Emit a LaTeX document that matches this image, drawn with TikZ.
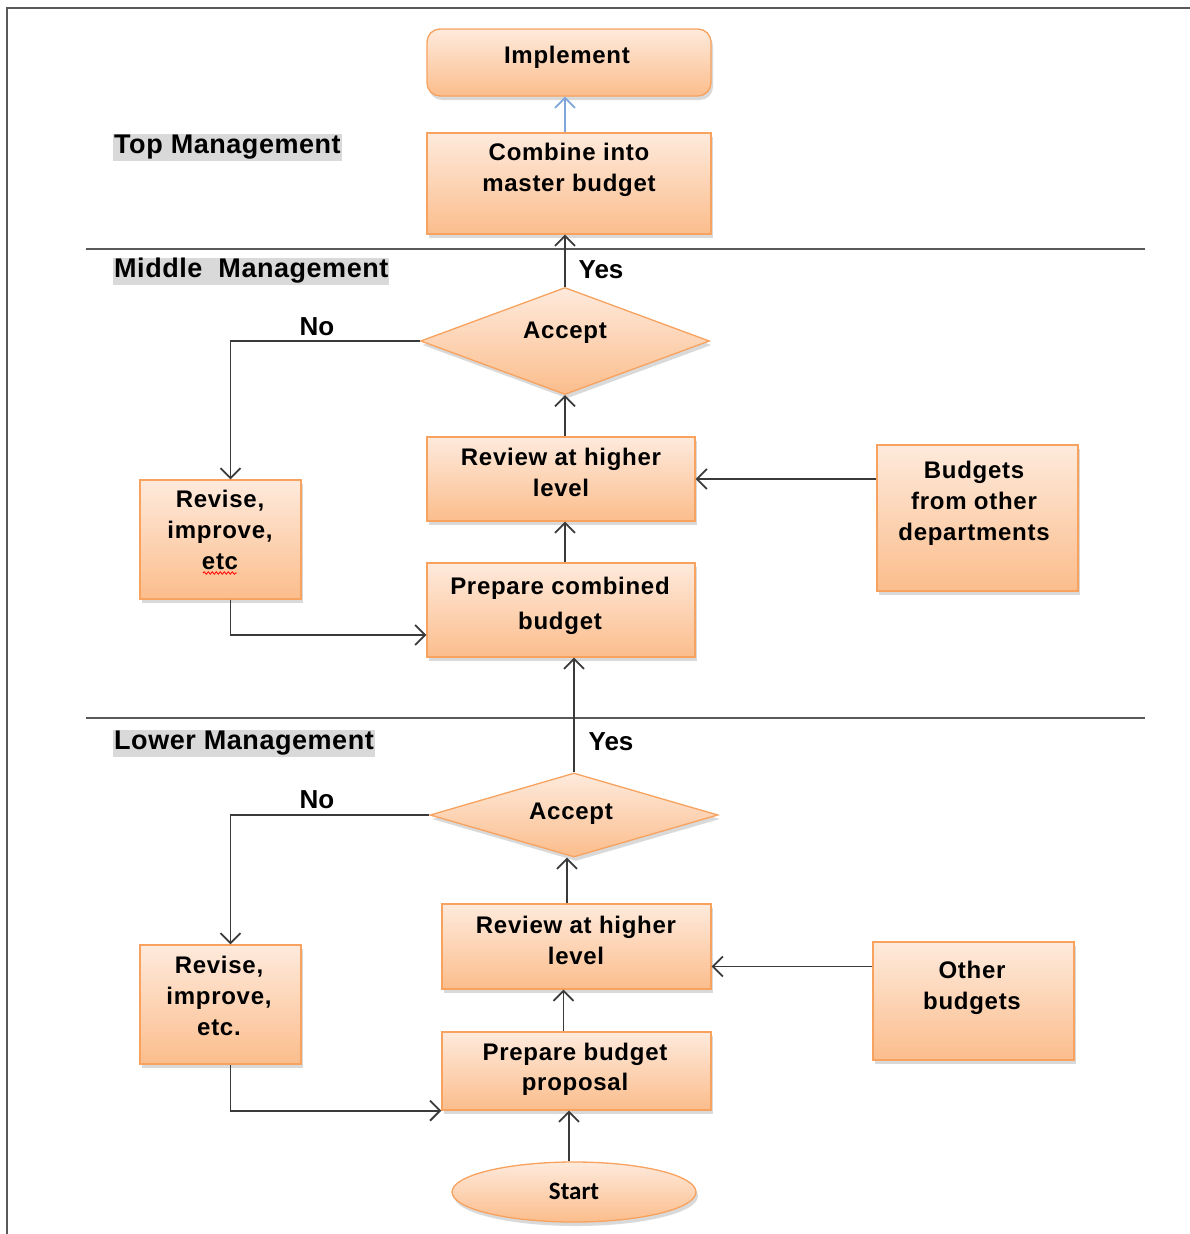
\documentclass[tikz,border=0pt]{standalone}
\usepackage{fontspec}
\setmainfont{Liberation Sans}
\newfontfamily\boxfont[LetterSpace=3]{Liberation Sans}
\newfontfamily\titlefont[LetterSpace=2]{Liberation Sans}
\newfontfamily\startfont{Carlito}
\usetikzlibrary{shapes.geometric,shadows,arrows.meta,decorations.pathmorphing}

\definecolor{peachtop}{HTML}{FEEADC}
\definecolor{peachbot}{HTML}{FBBD8C}
\definecolor{peachline}{HTML}{F7A25E}
\definecolor{wire}{HTML}{3A3A3A}
\definecolor{bandgray}{HTML}{D9D9D9}
\definecolor{framegray}{HTML}{595959}
\definecolor{bluewire}{HTML}{7FA6D8}

\tikzset{
  box/.style={draw=peachline, line width=1.3pt, top color=peachtop, bottom color=peachbot,
    drop shadow={shadow xshift=2pt, shadow yshift=-4pt, opacity=0.3}, inner sep=0pt},
  dia/.style={box, shape=diamond, inner sep=0pt},
  txt/.style={font=\boxfont\fontsize{24}{31}\selectfont\bfseries, align=center, inner sep=0pt},
  sect/.style={fill=bandgray, font=\titlefont\fontsize{27}{30}\selectfont\bfseries, inner xsep=1pt,
    inner ysep=0pt, text height=20pt, text depth=7pt, anchor=west},
  lbl/.style={font=\fontsize{26}{30}\selectfont\bfseries, inner sep=0pt},
  arr/.style={draw=wire, line width=1.9pt,
    -{Straight Barb[length=10pt,width=20pt,line width=1.8pt]}},
  bluearr/.style={arr, draw=bluewire}
}

\begin{document}
\begin{tikzpicture}[x=1pt,y=-1pt]
\useasboundingbox (0,0) rectangle (1190,1234);

% page frame and level separators
\draw[framegray, line width=2pt] (7,1234) -- (7,8) -- (1190,8);
\draw[framegray, line width=1.6pt] (86,249) -- (1145,249);
\draw[framegray, line width=1.6pt] (86,718) -- (1145,718);

% level titles
\node[sect] (top) at (113,147) {Top Management};
\node[sect] (mid) at (113,271) {Middle\ \ Management};
\node[sect] (low) at (113,743) {Lower Management};

% top management
\node[box, rounded corners=13pt, minimum width=284pt, minimum height=67pt] (impl) at (569,62.5) {};
\node[txt] (impl-t) at (567,57) {Implement};
\node[box, minimum width=284pt, minimum height=101pt] (comb) at (569,183.5) {};
\node[txt] (comb-t) at (569,170) {Combine into\\master budget};

% middle management
\node[dia, minimum width=289pt, minimum height=107pt] (acc1) at (565,341) {};
\node[txt] (acc1-t) at (565,333) {Accept};
\node[box, minimum width=268pt, minimum height=84pt] (revm) at (561,479) {};
\node[txt] (revm-t) at (561,472) {Review at higher\\level};
\node[box, minimum width=201pt, minimum height=146pt] (bud) at (977.5,518) {};
\node[txt] (bud-t) at (974,503) {Budgets\\from other\\departments};
\node[box, minimum width=161pt, minimum height=119pt] (rev1) at (220.5,539.5) {};
\node[txt] (rev1-t) at (220,530) {Revise,\\improve,\\etc};
\draw[red, line width=0.8pt, decorate, decoration={snake, amplitude=1.2pt, segment length=4pt}]
  (203,573) -- (237,573);
\node[box, minimum width=268pt, minimum height=94pt] (prep1) at (561,610) {};
\node[txt, font=\boxfont\fontsize{24}{35}\selectfont\bfseries] (prep1-t) at (560,606) {Prepare combined\\budget};

% lower management
\node[dia, minimum width=288pt, minimum height=84pt] (acc2) at (574,815) {};
\node[txt] (acc2-t) at (571,814) {Accept};
\node[box, minimum width=269pt, minimum height=85pt] (revl) at (576.5,946.5) {};
\node[txt] (revl-t) at (576,940) {Review at higher\\level};
\node[box, minimum width=161pt, minimum height=119pt] (rev2) at (220.5,1004.5) {};
\node[txt] (rev2-t) at (219,996) {Revise,\\improve,\\etc.};
\node[box, minimum width=201pt, minimum height=118pt] (oth) at (973.5,1001) {};
\node[txt] (oth-t) at (972,988) {Other\\budgets};
\node[box, minimum width=269pt, minimum height=78pt] (prep2) at (576.5,1071) {};
\node[txt, font=\boxfont\fontsize{24}{30}\selectfont\bfseries] (prep2-t) at (575,1069) {Prepare budget\\proposal};
\node[box, shape=ellipse, minimum width=244pt, minimum height=60pt] (start) at (574,1192) {};
\node[txt, font=\startfont\fontsize{25}{30}\selectfont\bfseries] (start-t) at (574,1191) {Start};

% decision labels
\node[lbl] (yes1) at (601,270) {Yes};
\node[lbl] (no1) at (317,327) {No};
\node[lbl] (yes2) at (611,742) {Yes};
\node[lbl] (no2) at (317,800) {No};

% helper points on the lower spine
\coordinate (c2) at ([xshift=-7pt]acc2.south);
\coordinate (c3) at ([xshift=-13pt]prep2.north);
\coordinate (c4) at ([xshift=-5pt]start.north);
\coordinate (revl-in) at ([yshift=-20pt]revl.east);

% connectors: top and middle
\draw[bluearr] (acc1.north |- comb.north) -- (acc1.north |- impl.south);
\draw[arr] (acc1.north) -- (acc1.north |- comb.south);
\draw[arr] (acc1.south |- revm.north) -- (acc1.south);
\draw[arr] (acc1.south |- prep1.north) -- (acc1.south |- revm.south);
\draw[arr] (bud.west |- revm.east) -- (revm.east);
\draw[arr] (acc1.west) -| ([xshift=10pt]rev1.north);
\draw[arr] ([xshift=10pt]rev1.south) |- ([yshift=-25pt]prep1.west);

% connectors: lower
\draw[arr] (acc2.north) -- (acc2.north |- prep1.south);
\draw[arr] (acc2.west) -| ([xshift=10pt]rev2.north);
\draw[arr] ([xshift=10pt]rev2.south) |- (prep2.south west);
\draw[arr] (c2 |- revl.north) -- (c2);
\draw[arr] (c3) -- (c3 |- revl.south);
\draw[arr] (revl-in -| oth.west) -- (revl-in);
\draw[arr] (c4) -- (c4 |- prep2.south);
\end{tikzpicture}
\end{document}
